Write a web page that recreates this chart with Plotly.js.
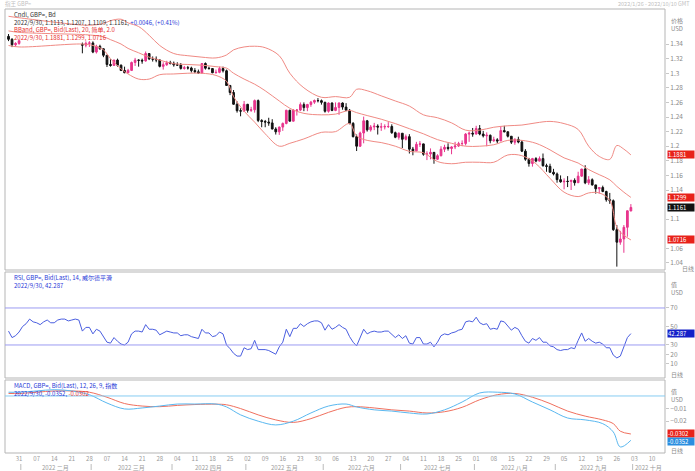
<!DOCTYPE html>
<html><head><meta charset="utf-8">
<script src="https://cdn.plot.ly/plotly-3.0.1.min.js"></script>
<style>html,body{margin:0;padding:0;background:#fff}#chart{width:695px;height:471px}</style>
</head><body><div id="chart"></div>
<script>
// ---------- candle data (GBP=, daily) ----------
const candleDates = ["2022-01-26","2022-01-27","2022-01-28","2022-01-31",
"2022-02-24","2022-02-25","2022-02-28",
"2022-03-01","2022-03-02","2022-03-03","2022-03-04","2022-03-07","2022-03-08","2022-03-09","2022-03-10","2022-03-11",
"2022-03-14","2022-03-15","2022-03-16","2022-03-17","2022-03-18","2022-03-21","2022-03-22","2022-03-23","2022-03-24","2022-03-25",
"2022-03-28","2022-03-29","2022-03-30","2022-03-31","2022-04-01","2022-04-04","2022-04-05","2022-04-06","2022-04-07","2022-04-08",
"2022-04-11","2022-04-12","2022-04-13","2022-04-14","2022-04-15","2022-04-18","2022-04-19","2022-04-20","2022-04-21","2022-04-22",
"2022-04-25","2022-04-26","2022-04-27","2022-04-28","2022-04-29","2022-05-02","2022-05-03","2022-05-04","2022-05-05","2022-05-06",
"2022-05-09","2022-05-10","2022-05-11","2022-05-12","2022-05-13","2022-05-16","2022-05-17","2022-05-18","2022-05-19","2022-05-20",
"2022-05-23","2022-05-24","2022-05-25","2022-05-26","2022-05-27","2022-05-30","2022-05-31","2022-06-01","2022-06-02","2022-06-03",
"2022-06-06","2022-06-07","2022-06-08","2022-06-09","2022-06-10","2022-06-13","2022-06-14","2022-06-15","2022-06-16","2022-06-17",
"2022-06-20","2022-06-21","2022-06-22","2022-06-23","2022-06-24","2022-06-27","2022-06-28","2022-06-29","2022-06-30","2022-07-01",
"2022-07-04","2022-07-05","2022-07-06","2022-07-07","2022-07-08","2022-07-11","2022-07-12","2022-07-13","2022-07-14","2022-07-15",
"2022-07-18","2022-07-19","2022-07-20","2022-07-21","2022-07-22","2022-07-25","2022-07-26","2022-07-27","2022-07-28","2022-07-29",
"2022-08-01","2022-08-02","2022-08-03","2022-08-04","2022-08-05","2022-08-08","2022-08-09","2022-08-10","2022-08-11","2022-08-12",
"2022-08-15","2022-08-16","2022-08-17","2022-08-18","2022-08-19","2022-08-22","2022-08-23","2022-08-24","2022-08-25","2022-08-26",
"2022-08-29","2022-08-30","2022-08-31","2022-09-01","2022-09-02","2022-09-05","2022-09-06","2022-09-07","2022-09-08","2022-09-09",
"2022-09-12","2022-09-13","2022-09-14","2022-09-15","2022-09-16","2022-09-19","2022-09-20","2022-09-21","2022-09-22","2022-09-23",
"2022-09-26","2022-09-27","2022-09-28","2022-09-29","2022-09-30"];
const openP = [1.3505,1.3465,1.3390,1.3408,
1.3395,1.3385,1.3410,
1.3415,1.3290,1.3368,1.3335,1.3246,1.3120,1.3107,1.3180,1.3110,
1.3038,1.3007,1.3039,1.3147,1.3180,1.3177,1.3168,1.3270,1.3196,1.3193,
1.3182,1.3094,1.3117,1.3144,1.3136,1.3114,1.3112,1.3066,1.3075,1.3072,
1.3036,1.3020,1.3003,1.3133,1.3069,1.3064,1.3007,1.3012,1.3064,1.3034,
1.2832,1.2736,1.2575,1.2487,1.2481,1.2574,1.2491,1.2499,1.2625,1.2353,
1.2339,1.2331,1.2319,1.2236,1.2197,1.2262,1.2312,1.2492,1.2343,1.2493,
1.2495,1.2570,1.2529,1.2572,1.2604,1.2626,1.2624,1.2601,1.2479,1.2592,
1.2490,1.2531,1.2592,1.2536,1.2493,1.2313,1.2131,1.2000,1.2181,1.2348,
1.2224,1.2264,1.2275,1.2262,1.2265,1.2269,1.2270,1.2185,1.2123,1.2178,
1.2095,1.2131,1.1960,1.1937,1.2026,1.2032,1.1890,1.1893,1.1916,1.1821,
1.1870,1.1959,1.1985,1.1969,1.1990,1.2003,1.2035,1.2038,1.2166,1.2178,
1.2167,1.2242,1.2167,1.2142,1.2150,1.2075,1.2087,1.2073,1.2214,1.2198,
1.2137,1.2055,1.2093,1.2057,1.1932,1.1822,1.1763,1.1830,1.1796,1.1830,
1.1733,1.1724,1.1643,1.1620,1.1542,1.1512,1.1520,1.1517,1.1532,1.1500,
1.1590,1.1687,1.1498,1.1541,1.1470,1.1416,1.1434,1.1380,1.1267,1.1253,
1.0857,1.0685,1.0729,1.0889,1.1113];
const highP = [1.3537,1.3480,1.3425,1.3450,
1.3420,1.3435,1.3440,
1.3437,1.3390,1.3390,1.3340,1.3250,1.3190,1.3185,1.3200,1.3120,
1.3090,1.3060,1.3160,1.3210,1.3190,1.3200,1.3298,1.3275,1.3230,1.3230,
1.3190,1.3150,1.3170,1.3170,1.3160,1.3150,1.3140,1.3100,1.3100,1.3090,
1.3070,1.3050,1.3140,1.3148,1.3090,1.3070,1.3050,1.3090,1.3090,1.3050,
1.2840,1.2770,1.2615,1.2520,1.2620,1.2580,1.2540,1.2640,1.2640,1.2370,
1.2360,1.2390,1.2370,1.2260,1.2270,1.2325,1.2500,1.2500,1.2510,1.2510,
1.2600,1.2600,1.2580,1.2620,1.2640,1.2660,1.2640,1.2610,1.2600,1.2600,
1.2600,1.2600,1.2600,1.2590,1.2510,1.2330,1.2160,1.2200,1.2406,1.2360,
1.2290,1.2320,1.2300,1.2320,1.2300,1.2330,1.2300,1.2200,1.2190,1.2180,
1.2160,1.2165,1.1990,1.2060,1.2070,1.2035,1.1930,1.1970,1.1920,1.1890,
1.2000,1.2020,1.2040,1.2000,1.2060,1.2060,1.2080,1.2180,1.2200,1.2250,
1.2280,1.2290,1.2210,1.2190,1.2160,1.2130,1.2110,1.2275,1.2280,1.2200,
1.2140,1.2110,1.2130,1.2080,1.1960,1.1840,1.1840,1.1850,1.1860,1.1900,
1.1760,1.1760,1.1690,1.1640,1.1600,1.1560,1.1590,1.1540,1.1560,1.1650,
1.1690,1.1740,1.1590,1.1560,1.1470,1.1440,1.1460,1.1390,1.1360,1.1270,
1.0920,1.0840,1.0920,1.1120,1.1207];
const lowP = [1.3440,1.3358,1.3370,1.3390,
1.3273,1.3355,1.3360,
1.3275,1.3270,1.3320,1.3220,1.3085,1.3090,1.3100,1.3090,1.3030,
1.3000,1.3000,1.3030,1.3100,1.3090,1.3130,1.3160,1.3180,1.3160,1.3150,
1.3080,1.3050,1.3100,1.3120,1.3090,1.3100,1.3050,1.3050,1.3050,1.3010,
1.3000,1.2990,1.2995,1.3050,1.3050,1.3000,1.2995,1.3000,1.3010,1.2825,
1.2700,1.2570,1.2460,1.2410,1.2470,1.2460,1.2470,1.2460,1.2330,1.2260,
1.2260,1.2280,1.2230,1.2160,1.2155,1.2210,1.2300,1.2340,1.2340,1.2420,
1.2480,1.2480,1.2480,1.2540,1.2580,1.2600,1.2570,1.2460,1.2460,1.2480,
1.2480,1.2430,1.2500,1.2480,1.2300,1.2120,1.1934,1.1990,1.2040,1.2200,
1.2200,1.2220,1.2160,1.2210,1.2230,1.2250,1.2170,1.2110,1.2090,1.1975,
1.2080,1.1900,1.1876,1.1930,1.1990,1.1870,1.1810,1.1820,1.1760,1.1810,
1.1860,1.1920,1.1940,1.1890,1.1960,1.1990,1.2000,1.2010,1.2060,1.2130,
1.2160,1.2150,1.2120,1.2000,1.2040,1.2060,1.2040,1.2070,1.2190,1.2120,
1.2030,1.2020,1.2040,1.1920,1.1800,1.1720,1.1720,1.1780,1.1790,1.1720,
1.1650,1.1640,1.1600,1.1500,1.1500,1.1410,1.1440,1.1400,1.1460,1.1500,
1.1580,1.1480,1.1470,1.1460,1.1350,1.1350,1.1370,1.1240,1.1210,1.0840,
1.0350,1.0650,1.0540,1.0760,1.1109];
const closeP = [1.3465,1.3390,1.3408,1.3446,
1.3385,1.3410,1.3415,
1.3290,1.3368,1.3335,1.3246,1.3120,1.3107,1.3180,1.3110,1.3038,
1.3007,1.3039,1.3147,1.3180,1.3177,1.3168,1.3270,1.3196,1.3193,1.3182,
1.3094,1.3117,1.3144,1.3136,1.3114,1.3112,1.3066,1.3075,1.3072,1.3036,
1.3020,1.3003,1.3133,1.3069,1.3064,1.3007,1.3012,1.3064,1.3034,1.2832,
1.2736,1.2575,1.2487,1.2481,1.2574,1.2491,1.2499,1.2625,1.2353,1.2339,
1.2331,1.2319,1.2236,1.2197,1.2262,1.2312,1.2492,1.2343,1.2493,1.2495,
1.2570,1.2529,1.2572,1.2604,1.2626,1.2624,1.2601,1.2479,1.2592,1.2490,
1.2531,1.2592,1.2536,1.2493,1.2313,1.2131,1.2000,1.2181,1.2348,1.2224,
1.2264,1.2275,1.2262,1.2265,1.2269,1.2270,1.2185,1.2123,1.2178,1.2095,
1.2131,1.1960,1.1937,1.2026,1.2032,1.1890,1.1893,1.1916,1.1821,1.1870,
1.1959,1.1985,1.1969,1.1990,1.2003,1.2035,1.2038,1.2166,1.2178,1.2167,
1.2242,1.2167,1.2142,1.2150,1.2075,1.2087,1.2073,1.2214,1.2198,1.2137,
1.2055,1.2093,1.2057,1.1932,1.1822,1.1763,1.1830,1.1796,1.1830,1.1733,
1.1724,1.1643,1.1620,1.1542,1.1512,1.1520,1.1517,1.1532,1.1500,1.1590,
1.1687,1.1498,1.1541,1.1470,1.1416,1.1434,1.1380,1.1267,1.1253,1.0857,
1.0685,1.0729,1.0889,1.1115,1.1161];

// ---------- Bollinger band (20, 2.0), read at sample dates ----------
const bbDates = ["2022-01-26","2022-01-31","2022-02-24","2022-03-01","2022-03-04","2022-03-08","2022-03-11","2022-03-15","2022-03-18","2022-03-23","2022-03-28","2022-04-01","2022-04-07","2022-04-13","2022-04-19","2022-04-22","2022-04-26","2022-04-29","2022-05-04","2022-05-09","2022-05-13","2022-05-18","2022-05-24","2022-05-31","2022-06-06","2022-06-10","2022-06-14","2022-06-17","2022-06-23","2022-06-29","2022-07-05","2022-07-11","2022-07-15","2022-07-21","2022-07-27","2022-08-02","2022-08-08","2022-08-12","2022-08-18","2022-08-24","2022-08-30","2022-09-05","2022-09-09","2022-09-14","2022-09-19","2022-09-22","2022-09-26","2022-09-28","2022-09-30"];
const bbUpper = [1.378,1.376,1.366,1.366,1.368,1.372,1.374,1.369,1.364,1.352,1.338,1.327,1.324,1.322,1.321,1.325,1.332,1.336,1.337,1.335,1.324,1.300,1.280,1.267,1.268,1.267,1.278,1.276,1.269,1.262,1.255,1.243,1.239,1.232,1.222,1.222,1.226,1.228,1.229,1.232,1.234,1.231,1.223,1.200,1.186,1.182,1.201,1.196,1.1881];
const bbMiddle = [1.358,1.356,1.353,1.352,1.350,1.346,1.340,1.334,1.328,1.322,1.318,1.313,1.312,1.311,1.309,1.307,1.300,1.292,1.285,1.276,1.262,1.252,1.245,1.243,1.244,1.249,1.246,1.242,1.237,1.231,1.224,1.217,1.209,1.204,1.200,1.200,1.202,1.208,1.208,1.204,1.195,1.184,1.177,1.168,1.161,1.154,1.145,1.137,1.1299];
const bbLower = [1.338,1.336,1.340,1.338,1.332,1.320,1.306,1.299,1.292,1.292,1.298,1.299,1.300,1.300,1.297,1.289,1.268,1.248,1.233,1.217,1.200,1.204,1.210,1.219,1.220,1.231,1.214,1.208,1.205,1.200,1.193,1.191,1.179,1.176,1.178,1.178,1.178,1.188,1.187,1.176,1.156,1.137,1.131,1.136,1.136,1.126,1.089,1.078,1.0716];

// ---------- RSI (14, Wilder), one value per trading day from 2022-01-26 ----------
const rsiStart = "2022-01-26";
const rsiValues = [45,38,40,44,
50,53,58,55,54,52,55,57,54,54,57,58,58,56,57,58,57,45,49,49,
42,47,45,39,33,32,38,34,31,30,33,42,45,45,44,52,47,47,46,41,43,45,44,43,
43,40,41,41,39,38,37,47,43,43,39,40,44,42,30,26,21,18,18,27,
25,26,35,25,25,25,24,22,20,28,33,47,39,48,48,53,50,53,55,56,56,54,
46,52,47,49,52,49,47,39,33,29,39,47,42,44,45,44,44,45,45,41,38,41,37,
40,32,31,38,38,31,31,33,28,33,40,42,41,43,44,46,47,55,56,55,
60,54,52,53,47,48,47,56,55,51,46,49,47,40,34,32,37,35,38,33,33,29,28,
25,24,25,25,27,26,35,43,34,37,34,32,33,31,27,27,19,16,18,27,38,42.287];

// ---------- MACD (12, 26, 9), read at sample dates ----------
const macdDates = ["2022-01-26","2022-01-31","2022-02-07","2022-02-14","2022-02-21","2022-02-28","2022-03-07","2022-03-14","2022-03-21","2022-03-28","2022-04-04","2022-04-11","2022-04-19","2022-04-22","2022-04-28","2022-05-05","2022-05-12","2022-05-19","2022-05-26","2022-06-02","2022-06-09","2022-06-14","2022-06-21","2022-06-28","2022-07-05","2022-07-12","2022-07-19","2022-07-26","2022-08-02","2022-08-09","2022-08-16","2022-08-23","2022-08-30","2022-09-06","2022-09-13","2022-09-20","2022-09-23","2022-09-27","2022-09-30"];
const macdLine = [0.003,0.003,0.004,0.005,0.004,0.001,-0.0056,-0.0103,-0.0095,-0.008,-0.0064,-0.0064,-0.0064,-0.0087,-0.015,-0.020,-0.023,-0.020,-0.0135,-0.008,-0.0064,-0.0087,-0.011,-0.012,-0.0135,-0.0143,-0.011,-0.0048,0.0024,0.003,0.0016,-0.0048,-0.011,-0.0175,-0.019,-0.022,-0.0286,-0.0405,-0.0352];
const macdSignal = [0.002,0.002,0.003,0.004,0.004,0.003,-0.001,-0.006,-0.008,-0.0085,-0.0075,-0.0068,-0.0065,-0.007,-0.010,-0.015,-0.019,-0.021,-0.018,-0.013,-0.009,-0.0085,-0.0095,-0.011,-0.012,-0.0135,-0.0125,-0.009,-0.003,0.001,0.002,-0.001,-0.006,-0.012,-0.016,-0.019,-0.022,-0.028,-0.0302];

// ---------- axis labels ----------
const weekTickLabels = ["31","07","14","21","28","07","14","21","28","04","11","18","25","02","09","16","23","30","06","13","20","27","04","11","18","25","01","08","15","22","29","05","12","19","26","03","10"];
const monthLabels = ["2022 二月","2022 三月","2022 四月","2022 五月","2022 六月","2022 七月","2022 八月","2022 九月","2022 十月"];
const monthFirstDays = ["2022-02-01","2022-03-01","2022-04-01","2022-05-02","2022-06-01","2022-07-01","2022-08-01","2022-09-01","2022-10-03"];
const priceTicks = [1.04,1.06,1.1,1.14,1.16,1.18,1.2,1.22,1.24,1.26,1.28,1.3,1.32,1.34];
const rsiTicks = [10,20,30,50,70];
const macdTicks = [-0.01,-0.02];

// trading-day index relative to Monday 2022-01-31 (weekends skipped)
function tIdx(s){
  const d = Date.parse(s + "T00:00:00Z");
  const days = Math.round((d - Date.UTC(2022,0,31)) / 864e5);
  const w = Math.floor(days / 7);
  return w * 5 + Math.min(days - w * 7, 5);
}
const W = 695, H = 471;
const px = x => x / W, py = y => 1 - y / H;

const cx = candleDates.map(tIdx);
const bbx = bbDates.map(tIdx);
const r0 = tIdx(rsiStart);
const rsiX = rsiValues.map((v, i) => r0 + i);
const mx = macdDates.map(tIdx);
const weekTickVals = weekTickLabels.map((_, i) => i * 5);

const FONT = "Noto Sans CJK SC, Noto Sans, sans-serif";
const bandColor = "#f08a84";
const traces = [
  {type:"candlestick", x:cx, open:openP, high:highP, low:lowP, close:closeP, xaxis:"x", yaxis:"y",
   increasing:{line:{color:"#e8358d", width:1}, fillcolor:"#e8358d"},
   decreasing:{line:{color:"#111111", width:1}, fillcolor:"#111111"},
   whiskerwidth:0, hoverinfo:"skip"},
  {type:"scatter", mode:"lines", x:bbx, y:bbUpper, line:{color:bandColor, width:1, shape:"spline"}, xaxis:"x", yaxis:"y"},
  {type:"scatter", mode:"lines", x:bbx, y:bbMiddle, line:{color:bandColor, width:1, shape:"spline"}, xaxis:"x", yaxis:"y"},
  {type:"scatter", mode:"lines", x:bbx, y:bbLower, line:{color:bandColor, width:1, shape:"spline"}, xaxis:"x", yaxis:"y"},
  {type:"scatter", mode:"lines", x:rsiX, y:rsiValues, line:{color:"#4a5ee0", width:1}, xaxis:"x2", yaxis:"y2"},
  {type:"scatter", mode:"lines", x:mx, y:macdSignal, line:{color:"#f0705e", width:1, shape:"spline"}, xaxis:"x3", yaxis:"y3"},
  {type:"scatter", mode:"lines", x:mx, y:macdLine, line:{color:"#5ab8f0", width:1, shape:"spline"}, xaxis:"x3", yaxis:"y3"}
];

const xr = [-4, 183.7];
const xdom = [px(5), px(665)];
const axCommon = {range:xr, domain:xdom, showgrid:false, zeroline:false, showline:false, fixedrange:true};
const yCommon = {side:"right", showgrid:false, zeroline:false, showline:false, ticks:"outside", ticklen:3,
  tickcolor:"#c8c8c8", tickfont:{size:6.5, color:"#8a8a8a", family:FONT}, fixedrange:true};

const mainRange = [1.0304, 1.388];
const rsiRange = [-5.7, 108.9];
const macdRange = [-0.0453, 0.0127];

const shapes = [];
[[9,270],[272,378],[380,453]].forEach(([t,b]) => {
  shapes.push({type:"rect", xref:"paper", yref:"paper", x0:px(5), x1:px(665), y0:py(b), y1:py(t), line:{color:"#b5b5b5", width:1}});
});
[70,30].forEach(v => shapes.push({type:"line", xref:"paper", yref:"y2", x0:px(5), x1:px(665), y0:v, y1:v, line:{color:"#9c9cf2", width:1}}));
shapes.push({type:"line", xref:"paper", yref:"y3", x0:px(5), x1:px(665), y0:0, y1:0, line:{color:"#86cdf2", width:1}});
monthFirstDays.forEach(d => {
  const xi = tIdx(d) - 0.5;
  shapes.push({type:"line", xref:"x3", yref:"paper", x0:xi, x1:xi, y0:py(470), y1:py(464), line:{color:"#bbbbbb", width:1}});
});

const ann = [];
function txt(x, y, text, opt={}) {
  ann.push(Object.assign({xref:"paper", yref:"paper", x:px(x), y:py(y), text:text, showarrow:false,
    xanchor:"left", yanchor:"middle", font:{size:6, color:"#333", family:FONT}}, opt));
}
txt(3, 4, "指王 GBP=", {font:{size:5.5, color:"#c0c0c0", family:FONT}});
txt(692, 4, "2022/1/26 - 2022/10/10 GMT", {xanchor:"right", font:{size:5.5, color:"#c0c0c0", family:FONT}});
const hdr = c => ({size:6, color:c, family:FONT});
txt(12, 15, "Cndl, GBP=, Bd", {font:hdr("#333")});
txt(12, 22.5, "2022/9/30, 1.1113, 1.1207, 1.1109, 1.1161, <span style='color:#2a3ad8'>+0.0046, (+0.41%)</span>", {font:hdr("#333")});
txt(12, 30, "BBand, GBP=, Bid(Last), 20, 简单, 2.0", {font:hdr("#e83030")});
txt(12, 37.5, "2022/9/30, 1.1881, 1.1299, 1.0716", {font:hdr("#e83030")});
txt(12, 277.5, "RSI, GBP=, Bid(Last), 14, 威尔德平滑", {font:hdr("#2a3ad8")});
txt(12, 285.5, "2022/9/30, 42.287", {font:hdr("#2a3ad8")});
txt(12, 385.5, "MACD, GBP=, Bid(Last), 12, 26, 9, 指数", {font:hdr("#2a3ad8")});
txt(12, 393.5, "2022/9/30, -0.0352, <span style='color:#e83030'>-0.0302</span>", {font:hdr("#2a3ad8")});
const gray = {size:6, color:"#8a8a8a", family:FONT};
txt(669, 21, "价格", {font:gray}); txt(669, 29, "USD", {font:gray});
txt(680, 268.5, "日线", {font:gray});
txt(669, 284, "值", {font:gray}); txt(669, 292, "USD", {font:gray});
txt(669, 374, "日线", {font:gray});
txt(669, 391, "值", {font:gray}); txt(669, 399, "USD", {font:gray});
txt(669, 450, "日线", {font:gray});
monthLabels.forEach((m, i) => {
  const a = tIdx(monthFirstDays[i]);
  const b = i + 1 < monthFirstDays.length ? tIdx(monthFirstDays[i+1]) : a + 9;
  ann.push({xref:"x3", yref:"paper", x:(a + b) / 2 - 0.5, y:py(467.5), text:m, showarrow:false, xanchor:"center", yanchor:"middle",
    font:{size:6, color:"#9a9a9a", family:FONT}});
});
function box(yref, v, label, bg) {
  ann.push({xref:"paper", yref:yref, x:px(667), y:v, text:label, showarrow:false, xanchor:"left", yanchor:"middle",
    bgcolor:bg, width:26, height:6.5, align:"left", borderpad:0, font:{size:6, color:"#ffffff", family:FONT}});
}
box("y", bbUpper[bbUpper.length-1] + 0.001, "1.1881", "#e8221a");
box("y", bbMiddle[bbMiddle.length-1], "1.1299", "#e8221a");
box("y", bbLower[bbLower.length-1], "1.0716", "#e8221a");
box("y", closeP[closeP.length-1], "1.1161", "#111111");
box("y2", rsiValues[rsiValues.length-1], "42.287", "#1420c8");
box("y3", macdSignal[macdSignal.length-1], "-0.0302", "#e8221a");
box("y3", macdLine[macdLine.length-1] - 0.0012, "-0.0352", "#2a8ee0");

const layout = {
  width:W, height:H, margin:{l:0, r:0, t:0, b:0}, paper_bgcolor:"#ffffff", plot_bgcolor:"#ffffff",
  showlegend:false, font:{family:FONT},
  xaxis: Object.assign({}, axCommon, {anchor:"y", showticklabels:false, rangeslider:{visible:false}}),
  xaxis2: Object.assign({}, axCommon, {anchor:"y2", showticklabels:false}),
  xaxis3: Object.assign({}, axCommon, {anchor:"y3", tickmode:"array", tickvals:weekTickVals, ticktext:weekTickLabels,
     tickfont:{size:6, color:"#9a9a9a", family:FONT}, ticks:"", ticklabelstandoff:1}),
  yaxis: Object.assign({}, yCommon, {domain:[py(270), py(9)], range:mainRange, anchor:"x", tickmode:"array", tickvals:priceTicks}),
  yaxis2: Object.assign({}, yCommon, {domain:[py(378), py(272)], range:rsiRange, anchor:"x2", tickmode:"array", tickvals:rsiTicks}),
  yaxis3: Object.assign({}, yCommon, {domain:[py(453), py(380)], range:macdRange, anchor:"x3", tickmode:"array", tickvals:macdTicks}),
  shapes:shapes, annotations:ann
};
Plotly.newPlot("chart", traces, layout, {staticPlot:true, displayModeBar:false});
</script>
</body></html>
